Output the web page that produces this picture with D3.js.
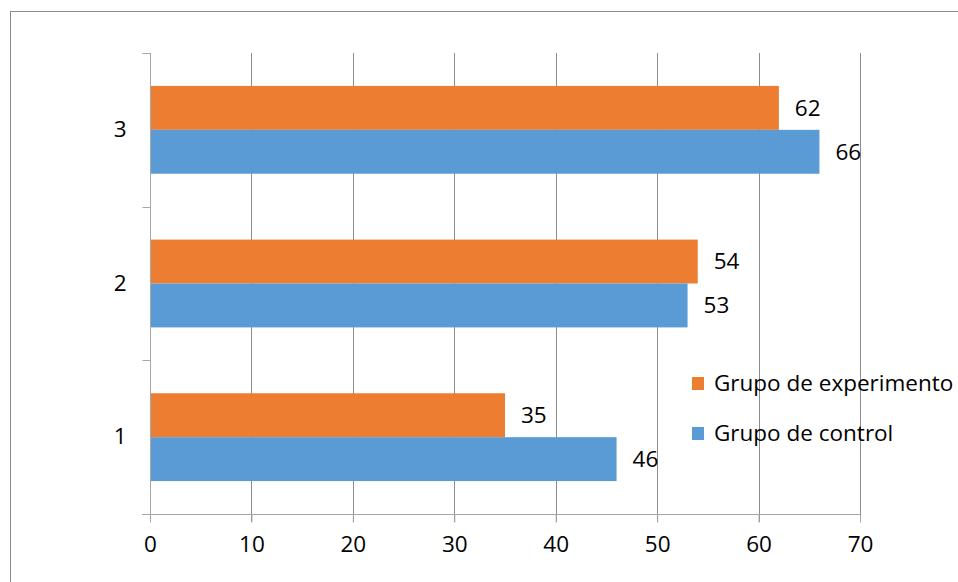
<!DOCTYPE html>
<html>
<head>
<meta charset="utf-8">
<script src="https://cdn.jsdelivr.net/npm/d3@7"></script>
<style>
  body{margin:0;background:#fff;}
  svg{display:block;font-family:"Open Sans",sans-serif;}
</style>
</head>
<body>
<div id="chart"></div>
<script>
const categories=["1","2","3"];
const control=[46,53,66];
const experimento=[35,54,62];
const series=[
  {name:"Grupo de experimento",values:experimento,color:"#ED7D31"},
  {name:"Grupo de control",values:control,color:"#5B9BD5"}
];
const xTicks=[0,10,20,30,40,50,60,70];
const fs=22.5;

const W=958,H=582;
const svg=d3.select("#chart").append("svg").attr("width",W).attr("height",H);
svg.append("rect").attr("x",10.5).attr("y",11.5).attr("width",W).attr("height",H)
  .attr("fill","#fff").attr("stroke","#8c8c8c");

const m={left:150,right:98,top:53,bottom:68};
const x=d3.scaleLinear().domain([0,70]).range([m.left,W-m.right]);
const y=d3.scaleBand().domain(categories.slice().reverse()).range([m.top,H-m.bottom]);
const inner=d3.scaleBand().domain(series.map(s=>s.name)).range([0,y.bandwidth()]).paddingOuter(0.75).paddingInner(0);

// gridlines
svg.append("g").selectAll("line").data(xTicks.slice(1)).join("line")
  .attr("x1",d=>Math.round(x(d))+0.5).attr("x2",d=>Math.round(x(d))+0.5)
  .attr("y1",m.top).attr("y2",H-m.bottom+8)
  .attr("stroke","#8c8c8c");

// bars
series.forEach(s=>{
  svg.append("g").selectAll("rect").data(categories).join("rect")
    .attr("x",x(0)).attr("y",(d)=>y(d)+inner(s.name))
    .attr("width",(d,i)=>x(s.values[i])-x(0)).attr("height",inner.bandwidth())
    .attr("fill",s.color);
  svg.append("g").selectAll("text").data(categories).join("text")
    .attr("x",(d,i)=>x(s.values[i])+16).attr("y",d=>y(d)+inner(s.name)+inner.bandwidth()/2)
    .attr("dy","0.35em").attr("font-size",fs).attr("fill","#000")
    .text((d,i)=>s.values[i]);
});

// x axis
const xa=svg.append("g").attr("transform",`translate(0,${Math.round(H-m.bottom)+0.5})`)
  .call(d3.axisBottom(x).tickValues(xTicks).tickSize(8).tickPadding(14));
xa.select(".domain").remove();
xa.append("line").attr("x1",x(0)-8).attr("x2",x(70)).attr("stroke","#a6a6a6");
xa.selectAll(".tick line").attr("stroke","#a6a6a6");
xa.selectAll("text").attr("font-size",fs).attr("fill","#000").attr("font-family","'Open Sans',sans-serif");

// y axis
const ya=svg.append("g").attr("transform",`translate(${Math.round(x(0))+0.5},0)`)
  .call(d3.axisLeft(y).tickSize(0).tickPadding(24));
ya.select(".domain").remove();
ya.append("line").attr("y1",m.top).attr("y2",H-m.bottom).attr("stroke","#a6a6a6");
ya.selectAll(".tick text").attr("font-size",fs).attr("fill","#000").attr("font-family","'Open Sans',sans-serif");
const yEdges=[m.top].concat(categories.map(c=>y(c)+y.bandwidth()));
ya.append("g").selectAll("line").data(yEdges).join("line")
  .attr("x1",-8).attr("x2",0).attr("y1",d=>Math.round(d)+0.5).attr("y2",d=>Math.round(d)+0.5)
  .attr("stroke","#a6a6a6");

// legend
const lg=svg.append("g").attr("transform","translate(692,377)");
series.forEach((s,i)=>{
  const r=lg.append("g").attr("transform",`translate(0,${i*50})`);
  r.append("rect").attr("width",12).attr("height",13).attr("fill",s.color);
  r.append("text").attr("x",22).attr("y",6.5).attr("dy","0.35em").attr("font-size",fs).text(s.name);
});
</script>
</body>
</html>
